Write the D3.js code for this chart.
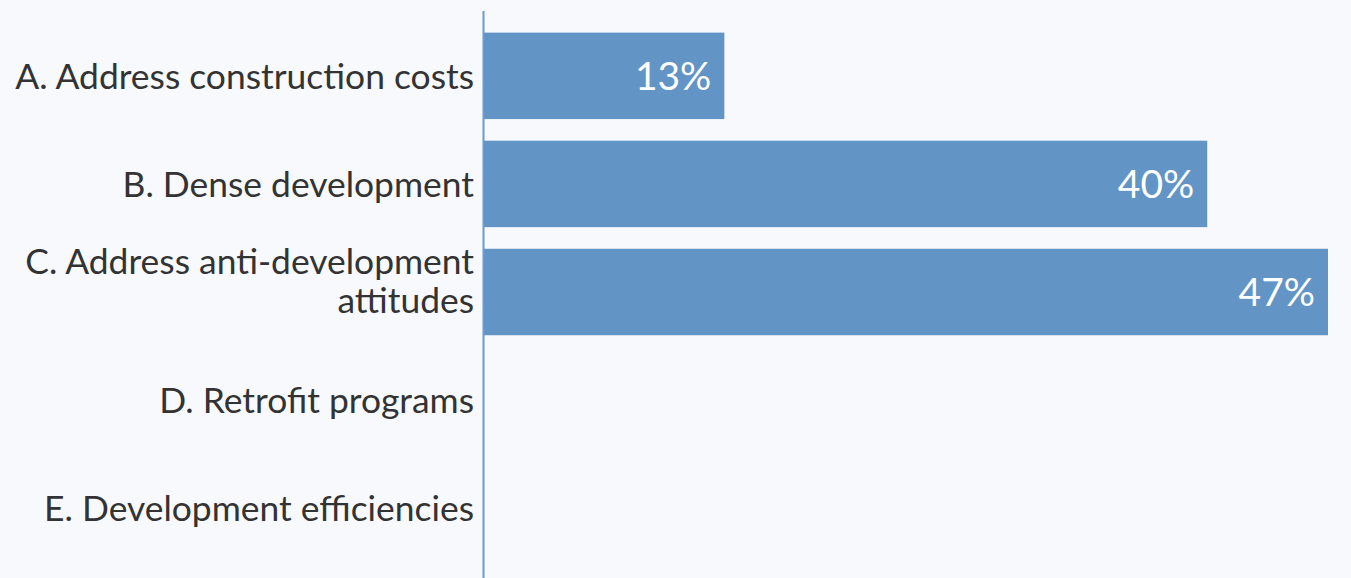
<!DOCTYPE html>
<html>
<head>
<meta charset="utf-8">
<script src="https://cdn.jsdelivr.net/npm/d3@7"></script>
<style>
  html, body { margin: 0; padding: 0; background: #f7f9fc; }
  svg { display: block; }
</style>
</head>
<body>
<div id="vis"></div>
<script>
// Datos (30 respuestas: 4, 12, 14)
const categorias = [
  "A. Address construction costs",
  "B. Dense development",
  "C. Address anti-development attitudes",
  "D. Retrofit programs",
  "E. Development efficiencies"
];
const valores = [13.33, 40, 46.67, 0, 0];
// etiquetas en varias líneas
const lineas = [
  ["A. Address construction costs"],
  ["B. Dense development"],
  ["C. Address anti-development", "attitudes"],
  ["D. Retrofit programs"],
  ["E. Development efficiencies"]
];

const WIDTH = 1351;
const HEIGHT = 578;
const FONT = "Lato, 'Noto Sans', sans-serif";
const margins = [483, 23, 11, 5]; // izquierda, derecha, arriba, abajo

const SVG = d3.select("#vis")
  .append("svg")
  .attr("width", WIDTH)
  .attr("height", HEIGHT);

SVG.append("rect")
  .attr("width", WIDTH)
  .attr("height", HEIGHT)
  .attr("fill", "#f7f9fc");

const data = categorias.map((c, i) => ({ name: c, value: valores[i], lines: lineas[i] }));

const x = d3.scaleLinear()
  .domain([0, d3.max(valores)])
  .range([margins[0], WIDTH - margins[1]]);

const y = d3.scaleBand()
  .domain(categorias)
  .range([margins[2], HEIGHT - margins[3]])
  .paddingInner(0.2)
  .paddingOuter(0.2);

// tamaño de letra ajustado para que la etiqueta más larga ocupe ~459px
const probe = SVG.append("text")
  .attr("font-family", FONT)
  .attr("font-size", 100)
  .text(lineas[0][0]);
const probeW = probe.node().getComputedTextLength();
probe.remove();
const labelSize = Math.min(38, 100 * 459 / probeW);
const valueSize = labelSize * 1.1;

// barras
SVG.append("g")
  .selectAll("rect")
  .data(data)
  .join("rect")
  .attr("x", x(0))
  .attr("y", d => y(d.name))
  .attr("width", d => x(d.value) - x(0))
  .attr("height", y.bandwidth())
  .attr("fill", "#6394c6");

// valores dentro de las barras
SVG.append("g")
  .selectAll("text")
  .data(data.filter(d => d.value > 0))
  .join("text")
  .attr("x", d => x(d.value) - 13)
  .attr("y", d => y(d.name) + y.bandwidth() / 2)
  .attr("dy", "0.36em")
  .attr("text-anchor", "end")
  .attr("font-family", FONT)
  .attr("font-size", valueSize)
  .attr("fill", "white")
  .text(d => Math.round(d.value) + "%");

// eje Y
const ejeY = SVG.append("g")
  .attr("id", "ejeY")
  .attr("transform", `translate(${margins[0]},0)`)
  .call(d3.axisLeft(y).tickSize(0).tickPadding(9).tickFormat(""));

ejeY.select(".domain")
  .attr("d", `M0.5,${margins[2]}V${HEIGHT}`)
  .attr("stroke", "#6a9bd0")
  .attr("stroke-width", 2);

ejeY.selectAll(".tick text").remove();
ejeY.selectAll(".tick")
  .append("text")
  .attr("x", -9)
  .attr("text-anchor", "end")
  .attr("font-family", FONT)
  .attr("font-size", labelSize)
  .attr("fill", "#333333")
  .each(function (d, i) {
    const ls = lineas[i];
    const lh = 39;
    d3.select(this).selectAll("tspan")
      .data(ls)
      .join("tspan")
      .attr("x", -9)
      .attr("y", (_, j) => j * lh - (ls.length - 1) * lh * 0.8)
      .attr("dy", "0.36em")
      .text(t => t);
  });
</script>
</body>
</html>
